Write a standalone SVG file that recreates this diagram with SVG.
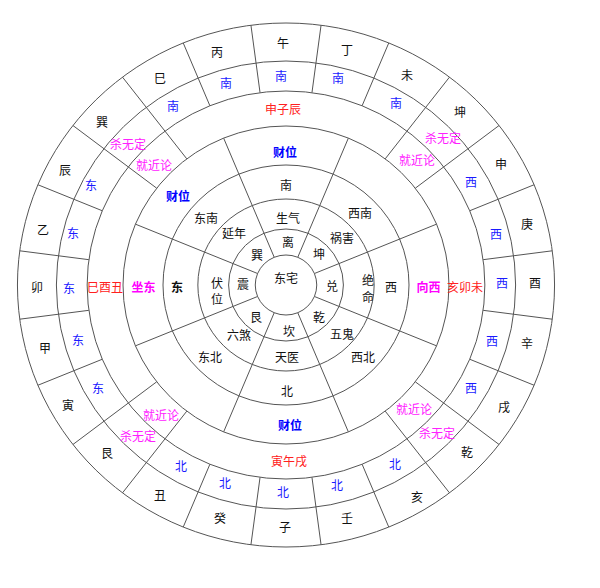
<svg xmlns="http://www.w3.org/2000/svg" width="600" height="588" viewBox="0 0 600 588">
<style>
.ln{fill:none;stroke:#555;stroke-width:1;vector-effect:non-scaling-stroke}
.t{font-family:"Noto Sans CJK SC","Noto Sans",sans-serif;font-size:12px;text-anchor:middle}
.k{fill:#111}
.b{fill:#1a1aff}
.r{fill:#ff2020}
.m{fill:#ff20ff}
.bb{fill:#0000ff;font-weight:bold}
.bm{fill:#ff00ff;font-weight:bold}
.kb{fill:#111;font-weight:bold}
</style>
<rect width="600" height="588" fill="#fff"/>
<g id="rings" transform="translate(286 285) scale(1.025 1)">
<circle class="ln" r="30"/>
<circle class="ln" r="56"/>
<circle class="ln" r="86"/>
<circle class="ln" r="120"/>
<circle class="ln" r="159"/>
<circle class="ln" r="194"/>
<circle class="ln" r="224"/>
<circle class="ln" r="262"/>
</g>
<g id="connectors" transform="translate(286 285) scale(1.025 1)">
<g id="inner-dividers">
<line class="ln" y1="-30" y2="-159" transform="rotate(22.5)"/>
<line class="ln" y1="-30" y2="-159" transform="rotate(67.5)"/>
<line class="ln" y1="-30" y2="-159" transform="rotate(112.5)"/>
<line class="ln" y1="-30" y2="-159" transform="rotate(157.5)"/>
<line class="ln" y1="-30" y2="-159" transform="rotate(202.5)"/>
<line class="ln" y1="-30" y2="-159" transform="rotate(247.5)"/>
<line class="ln" y1="-30" y2="-159" transform="rotate(292.5)"/>
<line class="ln" y1="-30" y2="-159" transform="rotate(337.5)"/>
</g>
<g id="diagonal-dividers">
<line class="ln" y1="-159" y2="-262" transform="rotate(37.5)"/>
<line class="ln" y1="-159" y2="-262" transform="rotate(52.5)"/>
<line class="ln" y1="-159" y2="-262" transform="rotate(127.5)"/>
<line class="ln" y1="-159" y2="-262" transform="rotate(142.5)"/>
<line class="ln" y1="-159" y2="-262" transform="rotate(217.5)"/>
<line class="ln" y1="-159" y2="-262" transform="rotate(232.5)"/>
<line class="ln" y1="-159" y2="-262" transform="rotate(307.5)"/>
<line class="ln" y1="-159" y2="-262" transform="rotate(322.5)"/>
</g>
<g id="mountain-dividers">
<line class="ln" y1="-194" y2="-262" transform="rotate(7.5)"/>
<line class="ln" y1="-194" y2="-262" transform="rotate(22.5)"/>
<line class="ln" y1="-194" y2="-262" transform="rotate(67.5)"/>
<line class="ln" y1="-194" y2="-262" transform="rotate(82.5)"/>
<line class="ln" y1="-194" y2="-262" transform="rotate(97.5)"/>
<line class="ln" y1="-194" y2="-262" transform="rotate(112.5)"/>
<line class="ln" y1="-194" y2="-262" transform="rotate(157.5)"/>
<line class="ln" y1="-194" y2="-262" transform="rotate(172.5)"/>
<line class="ln" y1="-194" y2="-262" transform="rotate(187.5)"/>
<line class="ln" y1="-194" y2="-262" transform="rotate(202.5)"/>
<line class="ln" y1="-194" y2="-262" transform="rotate(247.5)"/>
<line class="ln" y1="-194" y2="-262" transform="rotate(262.5)"/>
<line class="ln" y1="-194" y2="-262" transform="rotate(277.5)"/>
<line class="ln" y1="-194" y2="-262" transform="rotate(292.5)"/>
<line class="ln" y1="-194" y2="-262" transform="rotate(337.5)"/>
<line class="ln" y1="-194" y2="-262" transform="rotate(352.5)"/>
</g>
</g>
<g id="mountains" class="t k">
<text x="217" y="56.5">丙</text>
<text x="283" y="47.5">午</text>
<text x="347" y="54.5">丁</text>
<text x="407" y="79.5">未</text>
<text x="460" y="116.5">坤</text>
<text x="501" y="168.5">申</text>
<text x="527" y="228.5">庚</text>
<text x="535" y="287.5">酉</text>
<text x="527" y="347.5">辛</text>
<text x="504" y="411.5">戌</text>
<text x="467" y="456.5">乾</text>
<text x="417" y="501.5">亥</text>
<text x="347" y="522.5">壬</text>
<text x="285" y="531.5">子</text>
<text x="220" y="522.5">癸</text>
<text x="160" y="499.5">丑</text>
<text x="107" y="457.5">艮</text>
<text x="68" y="409.5">寅</text>
<text x="45" y="352.5">甲</text>
<text x="37" y="291.5">卯</text>
<text x="43" y="234.5">乙</text>
<text x="65" y="174.5">辰</text>
<text x="102" y="126.5">巽</text>
<text x="160" y="82.5">巳</text>
</g>
<g id="directions24" class="t b">
<text x="173" y="110.5">南</text>
<text x="226" y="87.5">南</text>
<text x="281" y="80.5">南</text>
<text x="338" y="82.5">南</text>
<text x="396" y="107.5">南</text>
<text x="471" y="186.5">西</text>
<text x="496" y="238.5">西</text>
<text x="502" y="287.5">西</text>
<text x="492" y="345.5">西</text>
<text x="471" y="392.5">西</text>
<text x="395" y="468.5">北</text>
<text x="337" y="489.5">北</text>
<text x="283" y="496.5">北</text>
<text x="225" y="487.5">北</text>
<text x="181" y="470.5">北</text>
<text x="98" y="392.5">东</text>
<text x="78" y="344.5">东</text>
<text x="69" y="292.5">东</text>
<text x="73" y="237.5">东</text>
<text x="91" y="189.5">东</text>
</g>
<g id="shawuding" class="t m">
<text x="128" y="148.5">杀无定</text>
<text x="443" y="142.5">杀无定</text>
<text x="437" y="437.5">杀无定</text>
<text x="138" y="440.5">杀无定</text>
</g>
<g id="sanhe" class="t">
<text class="r" x="283" y="113.5">申子辰</text>
<text class="r" x="465" y="291.5">亥卯未</text>
<text class="r" x="289" y="465.5">寅午戌</text>
<text class="r" x="105" y="291.5">巳酉丑</text>
<text class="m" x="154" y="169.5">就近论</text>
<text class="m" x="417" y="164.5">就近论</text>
<text class="m" x="414" y="413.5">就近论</text>
<text class="m" x="161" y="419.5">就近论</text>
</g>
<g id="caiwei" class="t">
<text class="bb" x="285" y="156.5">财位</text>
<text class="bb" x="178" y="200.5">财位</text>
<text class="bb" x="290" y="429.5">财位</text>
<text class="bm" x="143.5" y="291.5">坐东</text>
<text class="bm" x="428.5" y="291.5">向西</text>
</g>
<g id="directions8" class="t k">
<text x="286" y="189.5">南</text>
<text x="360" y="217.5">西南</text>
<text x="391" y="291.5">西</text>
<text x="363" y="361.5">西北</text>
<text x="287" y="395.5">北</text>
<text x="210" y="361.5">东北</text>
<text class="kb" x="177" y="291.5">东</text>
<text x="206" y="222.5">东南</text>
</g>
<g id="stars" class="t k">
<text x="288" y="222.5">生气</text>
<text x="342" y="242.5">祸害</text>
<text x="368" y="284.5">绝</text>
<text x="368" y="301.5">命</text>
<text x="342" y="338.5">五鬼</text>
<text x="287" y="361.5">天医</text>
<text x="239" y="339.5">六煞</text>
<text x="217" y="288">伏</text>
<text x="217" y="304">位</text>
<text x="234" y="237.5">延年</text>
</g>
<g id="trigrams" class="t k">
<text x="288" y="246.5">离</text>
<text x="319" y="258.5">坤</text>
<text x="332" y="290.5">兑</text>
<text x="319" y="321.5">乾</text>
<text x="289" y="335.5">坎</text>
<text x="256" y="321.5">艮</text>
<text x="243" y="288.5">震</text>
<text x="257" y="259.5">巽</text>
</g>
<g id="center" class="t k">
<text x="286" y="282.5">东宅</text>
</g>
</svg>
